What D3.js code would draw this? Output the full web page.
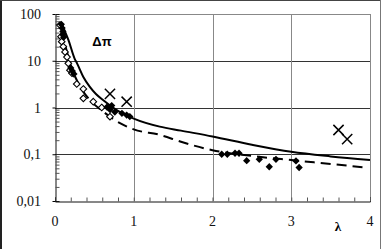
<!DOCTYPE html>
<html><head><meta charset="utf-8">
<script src="https://cdn.jsdelivr.net/npm/d3@7"></script>
<style>body{margin:0;background:#fff}svg{display:block}</style>
</head><body>
<script>
// ---- data ----
const xTicks = [0, 1, 2, 3, 4];
const yTicks = [0.01, 0.1, 1, 10, 100];
const yTickLabels = ["0,01", "0,1", "1", "10", "100"];
const solidX = [0.08, 0.12, 0.17, 0.25, 0.28, 0.36, 0.44, 0.52, 0.61, 0.8, 1.0, 1.33, 1.6, 2.0, 2.5, 3.0, 3.5, 4.0];
const solidY = [65, 45, 28, 11, 8.8, 4.5, 2.8, 1.95, 1.45, 0.85, 0.58, 0.39, 0.32, 0.24, 0.16, 0.113, 0.09, 0.075];
const dashX = [0.08, 0.12, 0.2, 0.3, 0.45, 0.6, 0.7, 0.85, 1.0, 1.33, 1.6, 2.0, 2.5, 3.0, 3.5, 3.95];
const dashY = [45, 25, 8, 3.2, 1.4, 0.85, 0.63, 0.44, 0.34, 0.26, 0.185, 0.122, 0.092, 0.075, 0.062, 0.052];
const openX = [0.063, 0.076, 0.085, 0.105, 0.127, 0.152, 0.169, 0.19, 0.216, 0.276, 0.36, 0.36, 0.486, 0.593, 0.698];
const openY = [58, 32.7, 25.6, 20, 15.4, 12, 8.8, 6.3, 5.4, 3.18, 2.49, 1.57, 1.33, 1.0, 0.636];
const filledX = [0.08, 0.09, 0.1, 0.1, 0.11, 0.2, 0.22, 0.24, 0.66, 0.7, 0.72, 0.76, 0.85, 0.91, 0.95,
  2.117, 2.188, 2.286, 2.337, 2.434, 2.594, 2.721, 2.806, 3.06, 3.1];
const filledY = [60, 50, 42, 36, 32, 7, 6, 5.2, 1.02, 0.9, 1.1, 0.8, 0.75, 0.69, 0.64,
  0.1, 0.1, 0.105, 0.105, 0.073, 0.078, 0.054, 0.078, 0.072, 0.052];
const crossX = [0.698, 0.91, 3.6, 3.71];
const crossY = [1.95, 1.33, 0.33, 0.21];

// ---- chart ----
const W = 383, H = 249;
const SERIF = "'Liberation Serif', 'Times New Roman', 'DejaVu Serif', serif";
const svg = d3.select("body").append("svg").attr("width", W).attr("height", H);
const x = d3.scaleLinear().domain([0, 4]).range([55, 370]);
const y = d3.scaleLog().domain([0.01, 100]).range([201, 14]);

// outer frame
svg.append("line").attr("x1", 1).attr("x2", 1).attr("y1", 0).attr("y2", H).attr("stroke", "#222").attr("stroke-width", 2);
svg.append("line").attr("x1", 0).attr("x2", 381).attr("y1", 0.5).attr("y2", 0.5).attr("stroke", "#444");
svg.append("line").attr("x1", 380.5).attr("x2", 380.5).attr("y1", 0).attr("y2", H).attr("stroke", "#777");

// grid
const g = svg.append("g");
g.selectAll(".hg").data(yTicks.slice(1)).join("line")
  .attr("x1", x(0)).attr("x2", x(4)).attr("y1", d => Math.round(y(d)) + 0.5).attr("y2", d => Math.round(y(d)) + 0.5)
  .attr("stroke", d => d === 100 ? "#888" : "#333").attr("stroke-width", 1);
g.selectAll(".vg").data(xTicks.slice(1)).join("line")
  .attr("x1", d => Math.round(x(d)) + 0.5).attr("x2", d => Math.round(x(d)) + 0.5).attr("y1", y(100)).attr("y2", y(0.01))
  .attr("stroke", "#888").attr("stroke-width", 1);

// axes
const xAxisG = svg.append("g").attr("transform", `translate(0,${Math.round(y(0.01)) + 0.5})`)
  .call(d3.axisBottom(x).tickValues(d3.range(0, 4.01, 0.2)).tickSize(-4).tickFormat(""));
xAxisG.select(".domain").attr("stroke", "#111");
xAxisG.selectAll(".tick line").attr("stroke", "#555");
const yMinor = [];
for (let e = -2; e < 2; e++) for (let m = 2; m <= 9; m++) yMinor.push(m * Math.pow(10, e));
const yAxisG = svg.append("g").attr("transform", `translate(${Math.round(x(0)) + 0.5},0)`)
  .call(d3.axisLeft(y).tickValues(yMinor).tickSize(-4).tickFormat(""));
yAxisG.select(".domain").attr("stroke", "#111");
yAxisG.selectAll(".tick line").attr("stroke", "#555");
svg.append("g").attr("transform", `translate(${Math.round(x(0)) + 0.5},0)`)
  .call(d3.axisLeft(y).tickValues(yTicks).tickSize(3).tickFormat(""))
  .call(s => s.select(".domain").remove());

// tick labels
svg.selectAll(".xl").data(xTicks).join("text")
  .attr("x", d => x(d)).attr("y", 226).attr("text-anchor", "middle")
  .style("font-family", SERIF).style("font-size", "14px").attr("fill", "#111").text(d => d);
svg.selectAll(".yl").data(yTicks).join("text")
  .attr("x", 41).attr("y", d => y(d) + 5).attr("text-anchor", "end")
  .style("font-family", SERIF).style("font-size", "14px").attr("fill", "#111")
  .text((d, i) => yTickLabels[i]);
svg.append("text").attr("x", 338).attr("y", 231).attr("text-anchor", "middle")
  .style("font-family", SERIF).style("font-weight", "bold").style("font-size", "13px").text("λ");
svg.append("text").attr("x", 102).attr("y", 46).attr("text-anchor", "middle")
  .style("font-family", "'Liberation Sans', Arial, sans-serif").style("font-weight", "bold").style("font-size", "13px").text("Δπ");

// lines
const line = d3.line().x(d => x(d[0])).y(d => y(d[1])).curve(d3.curveMonotoneX);
svg.append("path").datum(dashX.map((v, i) => [v, dashY[i]])).attr("d", line)
  .attr("fill", "none").attr("stroke", "#000").attr("stroke-width", 2).attr("stroke-dasharray", "10,6");
svg.append("path").datum(solidX.map((v, i) => [v, solidY[i]])).attr("d", line)
  .attr("fill", "none").attr("stroke", "#000").attr("stroke-width", 2);

// markers
const diamond = d3.symbol().type(d3.symbolDiamond2);
svg.selectAll(".od").data(openX.map((v, i) => [v, openY[i]])).join("path")
  .attr("d", diamond.size(28)).attr("transform", d => `translate(${x(d[0])},${y(d[1])})`)
  .attr("fill", "#fff").attr("stroke", "#000").attr("stroke-width", 1.1);
svg.selectAll(".fd").data(filledX.map((v, i) => [v, filledY[i]])).join("path")
  .attr("d", diamond.size(34)).attr("transform", d => `translate(${x(d[0])},${y(d[1])})`)
  .attr("fill", "#000");
svg.selectAll(".cx").data(crossX.map((v, i) => [v, crossY[i]])).join("path")
  .attr("d", d3.symbol().type(d3.symbolTimes).size(70)).attr("transform", d => `translate(${x(d[0])},${y(d[1])})`)
  .attr("fill", "none").attr("stroke", "#000").attr("stroke-width", 1.5);
</script>
</body></html>
